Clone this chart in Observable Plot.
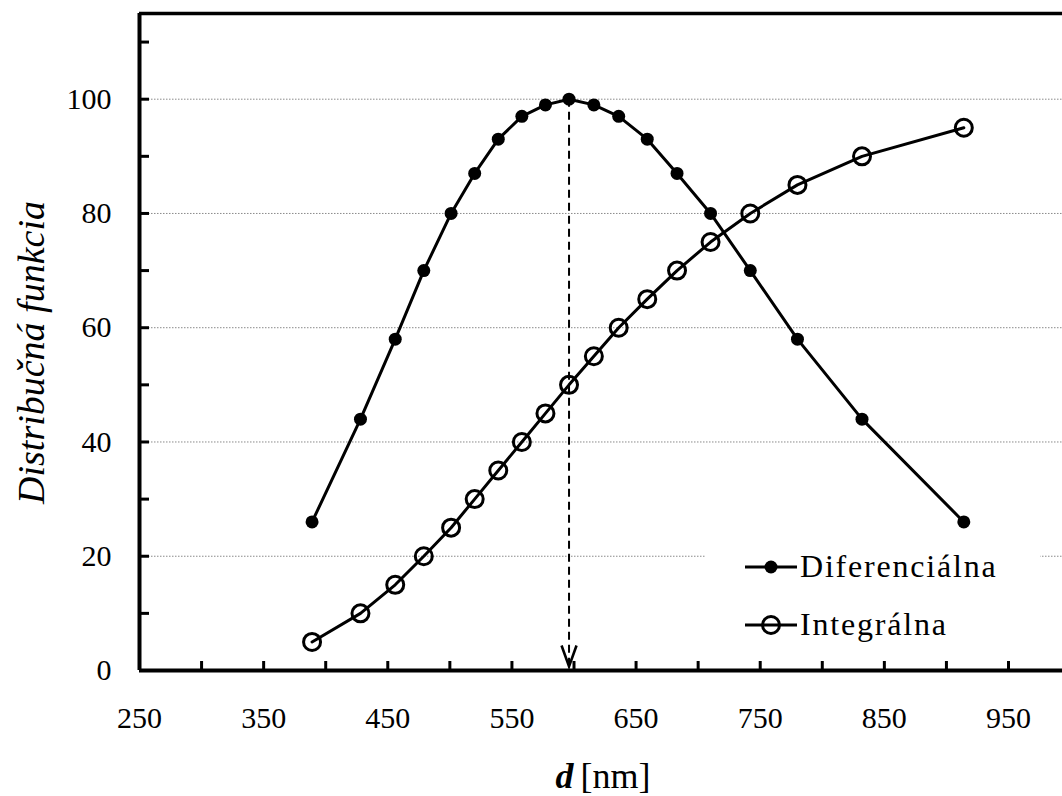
<!DOCTYPE html>
<html><head><meta charset="utf-8">
<script src="https://cdn.jsdelivr.net/npm/d3@7"></script>
<script src="https://cdn.jsdelivr.net/npm/@observablehq/plot@0.6"></script>
<style>
html,body{margin:0;padding:0;background:#fff;overflow:hidden}
#wrap{position:relative;width:1062px;height:796px;font-family:"Liberation Serif"}
#wrap svg text{font-family:"Liberation Serif"}
#legend{position:absolute;left:705px;top:540px}
</style></head><body><div id="wrap"></div>
<script>
// ---- data ----
const diameters = [389,428,456,479,501,520,539,558,577,596,616,636,659,683,710,742,780,832,914];
const differential = [26,44,58,70,80,87,93,97,99,100,99,97,93,87,80,70,58,44,26];
const integral = [5,10,15,20,25,30,35,40,45,50,55,60,65,70,75,80,85,90,95];
const xTickLabels = [250,350,450,550,650,750,850,950];
const xMinorTicks = [300,350,400,450,500,550,600,650,700,750,800,850,900,950];
const yTickLabels = [0,20,40,60,80,100];
const yMinorTicks = [10,20,30,40,50,60,70,80,90,100,110];
const gridValues = [20,40,60,80,100];
const seriesNames = ["Diferenciálna","Integrálna"];
const yTitle = "Distribučná funkcia";
const xTitleVar = "d";
const xTitleUnit = "[nm]";

const peakIndex = differential.indexOf(Math.max(...differential));
const peak = [{d: diameters[peakIndex], v: differential[peakIndex]}];
const diffData = diameters.map((d, i) => ({d, v: differential[i]}));
const intData = diameters.map((d, i) => ({d, v: integral[i]}));

const W = 1062, H = 796;
const mL = 139, mR = 0, mT = 13, mB = 126;
const frameW = W - mL - mR, frameH = H - mT - mB;
const serif = "Liberation Serif";

const arrowHead = { draw(ctx) { ctx.moveTo(-7.5, -21); ctx.lineTo(0, 0); ctx.lineTo(7.5, -21); } };

const chart = Plot.plot({
  width: W, height: H,
  marginLeft: mL, marginRight: mR, marginTop: mT, marginBottom: mB,
  style: {fontFamily: serif, fontSize: "30px", background: "white", color: "black"},
  x: {domain: [250, 993.5]},
  y: {domain: [0, 115]},
  marks: [
    Plot.ruleY(gridValues, {stroke: "#8a8a8a", strokeWidth: 1, strokeDasharray: "1.5,1.5"}),
    Plot.ruleX(xMinorTicks, {stroke: "black", strokeWidth: 3, insetTop: frameH - 9}),
    Plot.ruleY(yMinorTicks, {stroke: "black", strokeWidth: 3, insetRight: frameW - 10}),
    Plot.ruleX([250], {stroke: "black", strokeWidth: 4}),
    Plot.ruleY([0], {stroke: "black", strokeWidth: 4}),
    Plot.ruleY([115], {stroke: "black", strokeWidth: 3.5}),
    Plot.ruleX(peak, {x: "d", y1: "v", y2: 0, stroke: "black", strokeWidth: 2, strokeDasharray: "8,5"}),
    Plot.dot(peak, {x: "d", y: () => 0, symbol: arrowHead, r: 5, fill: "none", stroke: "black", strokeWidth: 2.6, dy: -4}),
    Plot.line(diffData, {x: "d", y: "v", stroke: "black", strokeWidth: 3}),
    Plot.line(intData, {x: "d", y: "v", stroke: "black", strokeWidth: 3}),
    Plot.dot(diffData, {x: "d", y: "v", r: 6.5, fill: "black", stroke: "none"}),
    Plot.dot(intData, {x: "d", y: "v", r: 8.5, fill: "none", stroke: "black", strokeWidth: 3}),
    Plot.axisX({ticks: xTickLabels, tickSize: 0, tickPadding: 36, fontSize: 30, label: null, tickFormat: d => String(d)}),
    Plot.axisY({ticks: yTickLabels, tickSize: 0, tickPadding: 28, fontSize: 30, label: null, tickFormat: d => String(d)}),
    Plot.text([yTitle], {frameAnchor: "left", textAnchor: "middle", rotate: -90, dx: -108, dy: 10.5, fontSize: 38, fontStyle: "italic", text: d => d}),
    Plot.text([xTitleVar], {frameAnchor: "bottom", textAnchor: "start", lineAnchor: "bottom", dx: -45.5, dy: 117, fontSize: 36, fontStyle: "italic", fontWeight: "bold", text: d => d}),
    Plot.text([xTitleUnit], {frameAnchor: "bottom", textAnchor: "start", lineAnchor: "bottom", dx: -20.5, dy: 117, fontSize: 36, text: d => d})
  ]
});
document.getElementById("wrap").appendChild(chart);

// ---- legend (overlay inside the plot area) ----
const lg = d3.select("#wrap").append("div").attr("id", "legend")
  .append("svg").attr("width", 335).attr("height", 110)
  .style("font-family", serif);
lg.append("rect").attr("width", 335).attr("height", 110).attr("fill", "white");
const rows = [{name: seriesNames[0], y: 27, filled: true}, {name: seriesNames[1], y: 85, filled: false}];
for (const r of rows) {
  lg.append("line").attr("x1", 40).attr("x2", 92).attr("y1", r.y).attr("y2", r.y)
    .attr("stroke", "black").attr("stroke-width", 3);
  if (r.filled) lg.append("circle").attr("cx", 66).attr("cy", r.y).attr("r", 6.5).attr("fill", "black");
  else lg.append("circle").attr("cx", 66).attr("cy", r.y).attr("r", 8.5).attr("fill", "none").attr("stroke", "black").attr("stroke-width", 3);
  lg.append("text").attr("x", 95).attr("y", r.y + 10).attr("font-size", 32)
    .attr("letter-spacing", "1.8px").text(r.name);
}
</script></body></html>
